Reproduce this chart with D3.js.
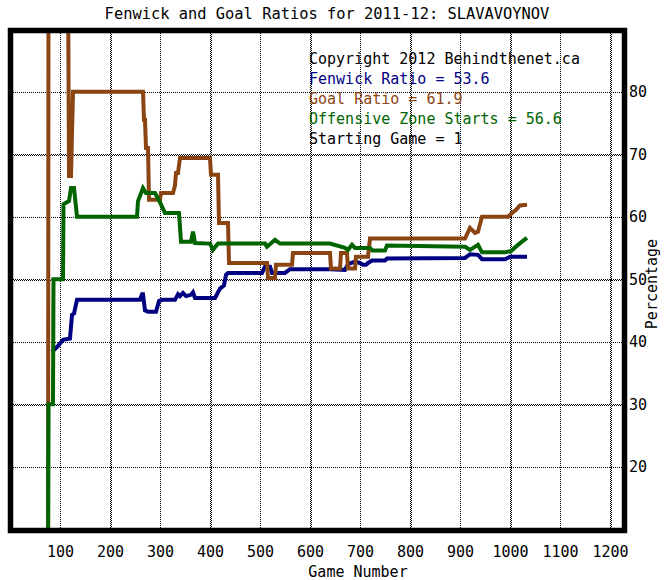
<!DOCTYPE html>
<html>
<head>
<meta charset="utf-8">
<script src="https://cdn.jsdelivr.net/npm/d3@7"></script>
<style>
  html, body { margin: 0; padding: 0; background: #fff; }
  svg { display: block; }
  text { font-family: "DejaVu Sans Mono", monospace; }
</style>
</head>
<body>
<svg id="chart" width="665" height="580"></svg>
<script>
const titleText = "Fenwick and Goal Ratios for 2011-12: SLAVAVOYNOV";
const xTicks = [100, 200, 300, 400, 500, 600, 700, 800, 900, 1000, 1100, 1200];
const yTicks = [20, 30, 40, 50, 60, 70, 80];
const legendLines = [
  "Copyright 2012 Behindthenet.ca",
  "Fenwick Ratio = 53.6",
  "Goal Ratio = 61.9",
  "Offensive Zone Starts = 56.6",
  "Starting Game = 1"
];

// [game, value]
const fenwick = [[84,38.4],[96,39.3],[106,40.3],[120,40.5],[124,44.3],[128,44.5],[134,46.7],[260,46.7],[264,47.6],[266,47.6],[270,45],[276,44.8],[292,44.8],[298,46.5],[304,46.7],[330,46.7],[336,47.6],[340,47.3],[346,47.8],[352,47.3],[362,47.5],[366,47.9],[370,47],[410,47],[420,48.5],[428,49],[432,50.7],[436,51],[504,51],[510,52],[520,52],[524,51],[550,51],[560,51.6],[640,51.6],[670,51.5],[676,52.4],[690,52.8],[700,52.6],[706,52.3],[712,52.3],[716,52.6],[724,53],[750,53],[754,53.3],[910,53.4],[920,54],[936,53.9],[944,53.2],[990,53.2],[1000,53.6],[1034,53.6]];

const goals = [[76,0],[77,100],[116,100],[118,66.5],[122,66.5],[126,80],[266,80],[268,75.5],[270,75.5],[272,71],[276,71],[278,62.7],[300,62.7],[302,63.8],[326,63.8],[330,65],[332,67],[336,67],[340,69.4],[400,69.4],[402,66.7],[416,66.7],[418,59],[436,59],[438,52.6],[514,52.6],[516,50.2],[530,50.2],[532,52.3],[564,52.3],[566,54.2],[640,54.2],[642,51.7],[660,51.7],[662,54.2],[674,54.2],[676,51.7],[690,51.7],[692,53.6],[716,53.6],[720,56.5],[910,56.5],[920,58.2],[930,57.4],[936,57.6],[944,60],[996,60],[1006,60.7],[1012,61.1],[1020,61.8],[1034,61.9]];

const ozone = [[76,0],[77,30],[86,30],[87,50],[106,50],[107,62],[118,62.5],[122,64.6],[128,64.6],[134,60],[254,60],[256,62.5],[266,64.6],[272,63.8],[290,63.8],[300,62.3],[310,60.6],[338,60.6],[342,56],[362,56],[366,57.6],[370,55.8],[400,55.7],[406,54.7],[416,55.7],[510,55.7],[514,55.2],[530,56.3],[540,55.7],[640,55.7],[670,55],[676,54.7],[684,55.5],[690,55],[720,55],[725,54.6],[750,54.6],[754,55.4],[910,55.2],[920,54.7],[936,55.5],[944,54.3],[990,54.3],[1002,54.5],[1016,55.5],[1024,56],[1034,56.6]];

const colors = { fenwick: "#000080", goals: "#8B4513", ozone: "#006400", text: "#000" };
const legendColors = [colors.text, colors.fenwick, colors.goals, colors.ozone, colors.text];

const svg = d3.select("#chart");
const x = d3.scaleLinear().domain([0, 1230]).range([10, 625]);
const y = d3.scaleLinear().domain([10, 90]).range([529.2, 29.2]);

const inner = { left: 13, top: 33, right: 622, bottom: 528 };

svg.append("defs").append("clipPath").attr("id", "plotclip")
  .append("rect")
  .attr("x", inner.left).attr("y", inner.top)
  .attr("width", inner.right - inner.left).attr("height", inner.bottom - inner.top);

// Grid
const grid = svg.append("g").attr("shape-rendering", "crispEdges");
xTicks.forEach(t => {
  const X = Math.round(x(t));
  if (t % 200 === 0) {
    grid.append("line").attr("x1", X + 0.5).attr("x2", X + 0.5).attr("y1", inner.top).attr("y2", inner.bottom)
      .attr("stroke", "#000").attr("stroke-dasharray", "1,1");
    grid.append("line").attr("x1", X + 1.5).attr("x2", X + 1.5).attr("y1", inner.top + 1).attr("y2", inner.bottom)
      .attr("stroke", "#000").attr("stroke-dasharray", "1,1");
  } else {
    grid.append("line").attr("x1", X + 0.5).attr("x2", X + 0.5).attr("y1", inner.top).attr("y2", inner.bottom)
      .attr("stroke", "#000").attr("stroke-dasharray", "1,1");
  }
});
yTicks.forEach(t => {
  const Y = Math.round(y(t));
  if (t % 20 !== 0) {
    grid.append("line").attr("y1", Y + 0.5).attr("y2", Y + 0.5).attr("x1", inner.left).attr("x2", inner.right)
      .attr("stroke", "#000").attr("stroke-dasharray", "1,1");
    grid.append("line").attr("y1", Y + 1.5).attr("y2", Y + 1.5).attr("x1", inner.left + 1).attr("x2", inner.right)
      .attr("stroke", "#000").attr("stroke-dasharray", "1,1");
  } else {
    grid.append("line").attr("y1", Y + 0.5).attr("y2", Y + 0.5).attr("x1", inner.left).attr("x2", inner.right)
      .attr("stroke", "#000").attr("stroke-dasharray", "1,1");
  }
});

// Lines
const line = d3.line().x(d => x(d[0])).y(d => y(d[1]));
const plot = svg.append("g").attr("clip-path", "url(#plotclip)");
[[fenwick, colors.fenwick], [goals, colors.goals], [ozone, colors.ozone]].forEach(([data, c]) => {
  plot.append("path").datum(data).attr("d", line)
    .attr("fill", "none").attr("stroke", c).attr("stroke-width", 4)
    .attr("stroke-linejoin", "miter").attr("stroke-linecap", "butt");
});

// Legend text
const leg = svg.append("g");
legendLines.forEach((s, i) => {
  leg.append("text").attr("x", 309).attr("y", 63.5 + i * 20)
    .attr("fill", legendColors[i]).attr("font-size", 15).text(s);
});

// Frame
svg.append("rect").attr("x", 10.5).attr("y", 30.5).attr("width", 614).attr("height", 500)
  .attr("fill", "none").attr("stroke", "#000").attr("stroke-width", 5.5);

// Axes
const xAxis = svg.append("g").attr("transform", "translate(0,546)")
  .call(d3.axisBottom(x).tickValues(xTicks).tickSize(0).tickPadding(0).tickFormat(d3.format("d")));
xAxis.select(".domain").remove();
xAxis.selectAll("text").attr("font-size", 15).attr("font-family", "DejaVu Sans Mono").attr("fill", "#000");

const yAxis = svg.append("g").attr("transform", "translate(629,0)")
  .call(d3.axisRight(y).tickValues(yTicks).tickSize(0).tickPadding(0).tickFormat(d3.format("d")));
yAxis.select(".domain").remove();
yAxis.selectAll("text").attr("font-size", 15).attr("font-family", "DejaVu Sans Mono").attr("fill", "#000");

// Titles
svg.append("text").attr("x", 327).attr("y", 19).attr("text-anchor", "middle")
  .attr("font-size", 15.4).text(titleText);
svg.append("text").attr("x", 358).attr("y", 577).attr("text-anchor", "middle")
  .attr("font-size", 15).text("Game Number");
svg.append("text").attr("transform", "translate(657,284) rotate(-90)").attr("text-anchor", "middle")
  .attr("font-size", 15).text("Percentage");
</script>
</body>
</html>
